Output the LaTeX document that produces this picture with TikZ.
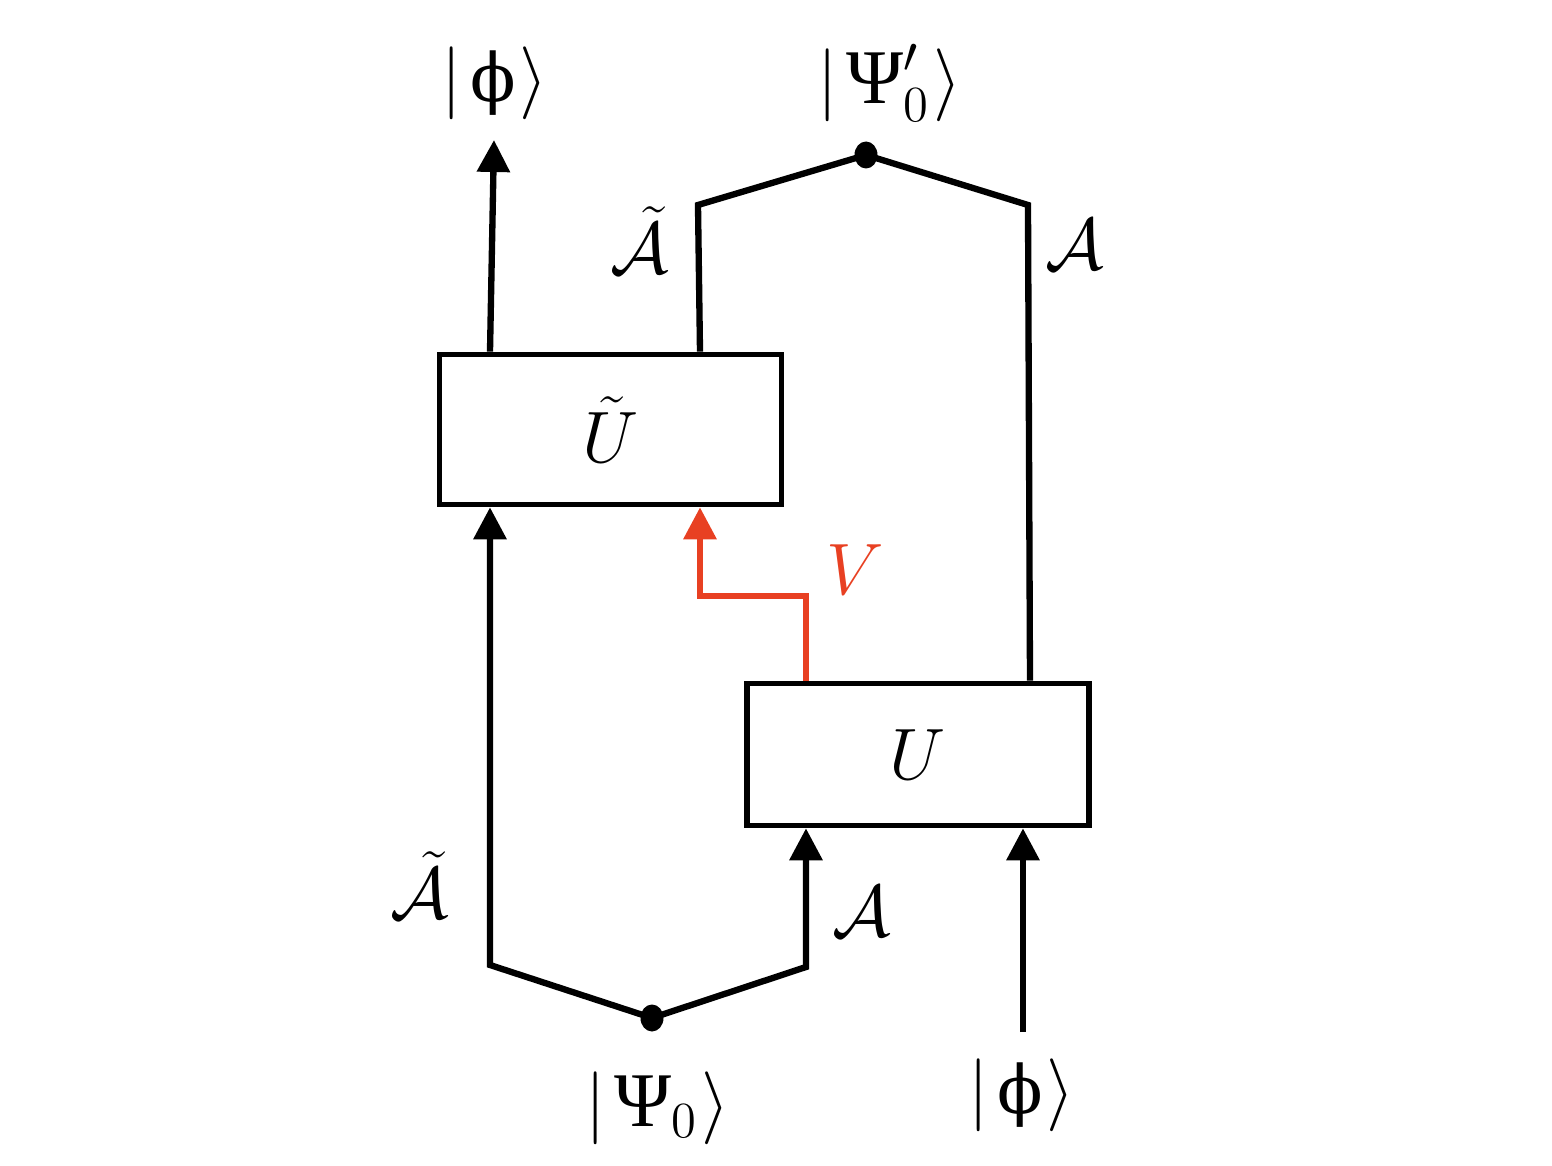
\documentclass[tikz,border=0pt]{standalone}
\usepackage{amsmath,amssymb}
\usepackage{fontspec}
\usepackage{tikz}
\usetikzlibrary{arrows.meta,positioning,calc,shapes.geometric}
\newfontfamily\grk{Liberation Serif}
\newfontfamily\grkphi{DejaVu Serif}
\definecolor{vred}{RGB}{232,64,34}
\newcommand{\ketphi}{$\lvert\mkern2mu\mbox{\grkphi\fontsize{19}{22}\selectfont ϕ}\mkern1mu\rangle$}

\begin{document}
\begin{tikzpicture}[
    % --- node styles ---
    unitbox/.style={
      rectangle, draw=black, line width=1.6pt, inner sep=0pt,
      minimum width=34.2mm, font=\fontsize{22}{26}\selectfont},
    lbl/.style={font=\fontsize{22}{26}\selectfont, inner sep=1pt},
    ket/.style={font=\fontsize{22}{26}\selectfont, inner sep=1pt},
    wire/.style={line width=1.8pt, draw=black},
    arr/.style={-{Triangle[length=3.2mm,width=3.2mm]}, line width=1.8pt, draw=black},
    varr/.style={-{Triangle[length=3.2mm,width=3.2mm]}, line width=1.8pt, draw=vred},
    dot/.style={ellipse, fill=black, inner sep=0pt, minimum width=2.3mm, minimum height=2.7mm},
  ]
  \useasboundingbox (0,0) rectangle (15.52,11.65);

  % ============== UNITARIES ==============
  \node[unitbox, minimum height=15.0mm] (Ut) at (6.105,7.355) {$\tilde{U}$};
  \node[unitbox, minimum height=14.2mm] (U)  at (9.18,4.105)  {$U$};

  % ============== JOINTS AND FREE ENDS ==============
  \node[dot] (psiout) at (8.66,10.10) {};
  \node[dot] (psiin)  at (6.52,1.47) {};
  \coordinate (outL)   at (6.98,9.60);
  \coordinate (outR)   at (10.28,9.60);
  \coordinate (inL)    at (4.90,2.00);
  \coordinate (inR)    at (8.06,1.98);
  \coordinate (phiin)  at (10.23,1.33);
  \coordinate (phiout) at (4.94,10.25);
  \coordinate (vbend)  at (8.06,5.69);
  % wire columns
  \coordinate (xout) at (4.90,0);
  \coordinate (xta)  at (7.00,0);
  \coordinate (xra)  at (10.30,0);

  % ============== WIRES ==============
  \draw[wire] (Ut.north -| xta) -- (outL) -- (psiout.center) -- (outR) -- (U.north -| xra);
  \draw[arr] (Ut.north -| xout) -- (phiout);

  \draw[arr] (psiin.center) -- (inL) -- (Ut.south -| inL);
  \draw[arr] (psiin.center) -- (inR) -- (U.south -| inR);
  \draw[arr] (phiin) -- (U.south -| phiin);

  % classical message from U to U-tilde
  \draw[varr] (U.north -| vbend) -- (vbend) -- (vbend -| xta) -- (Ut.south -| xta);

  % ============== LABELS ==============
  \node[ket] (kphiout) at (4.95,10.82) {\ketphi};
  \node[ket] (kpsiout) at (8.90,10.82) {$\lvert\mkern2mu\mbox{\grk Ψ}'_0\mkern1mu\rangle$};
  \node[ket] (kpsiin)  at (6.58,0.57)  {$\lvert\mkern2mu\mbox{\grk Ψ}_0\mkern1mu\rangle$};
  \node[ket] (kphiin)  at (10.22,0.70) {\ketphi};

  \node[lbl] (atop)  at (6.40,9.25)  {$\tilde{\mathcal{A}}$};
  \node[lbl] (rtop)  at (10.75,9.20) {$\mathcal{A}$};
  \node[lbl] (abot)  at (4.20,2.80)  {$\tilde{\mathcal{A}}$};
  \node[lbl] (rbot)  at (8.62,2.53)  {$\mathcal{A}$};
  \node[lbl, text=vred] (vlab) at (8.55,5.95) {$V$};

\end{tikzpicture}
\end{document}
